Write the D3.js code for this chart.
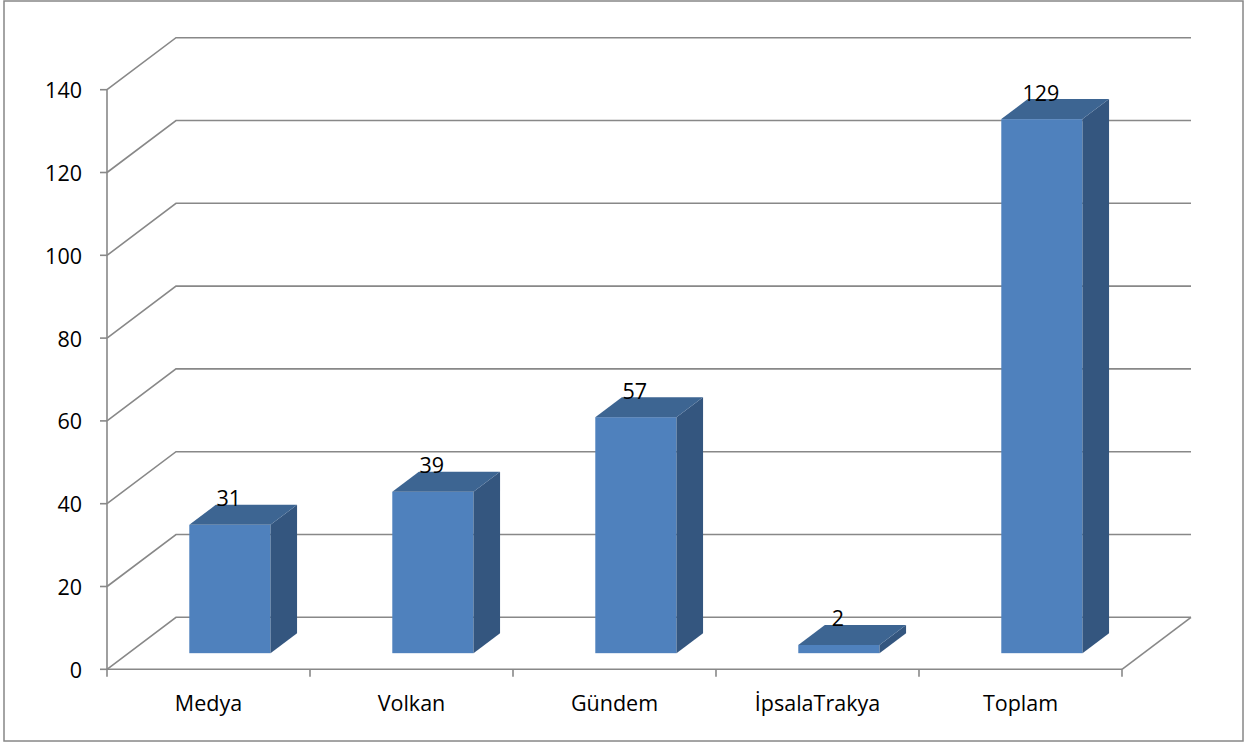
<!DOCTYPE html>
<html><head><meta charset="utf-8">
<script src="https://cdn.jsdelivr.net/npm/d3@7"></script>
<style>
html,body{margin:0;padding:0;background:#fff;}
svg{display:block;}
text{font-family:"Open Sans", Lato, sans-serif;fill:#000;}
</style></head>
<body>
<svg id="chart" width="1249" height="744"></svg>
<script>
const categories = ["Medya", "Volkan", "Gündem", "İpsalaTrakya", "Toplam"];
const values = [31, 39, 57, 2, 129];
const yTicks = [0, 20, 40, 60, 80, 100, 120, 140];

const W = 1249, H = 744;
const svg = d3.select("#chart");

// plot geometry (front plane)
const x0 = 107, x1 = 1122, yBottom = 669.3, yTop = 89.7;
const depthDx = 69, depthDy = -52;           // offset from front plane to back wall
const barFront = 0.31, barDepth = 0.385;     // bar position within the depth

const x = d3.scaleBand().domain(categories).range([x0, x1]).paddingInner(0.6).paddingOuter(0.3);
const xStep = d3.scaleBand().domain(categories).range([x0, x1]).padding(0);
const y = d3.scaleLinear().domain([0, 140]).range([yBottom, yTop]);

const gridColor = "#888888";
const fontSize = 21.5;

// chart border
svg.append("rect").attr("x", 4).attr("y", 1).attr("width", 1239).attr("height", 740)
  .attr("fill", "none").attr("stroke", "#878787").attr("stroke-width", 1.5);

const grid = svg.append("g").attr("stroke", gridColor).attr("stroke-width", 1.6).attr("fill", "none");
// gridlines: side wall diagonal + back wall horizontal
yTicks.forEach(t => {
  const p = d3.path();
  p.moveTo(x0, y(t));
  p.lineTo(x0 + depthDx, y(t) + depthDy);
  p.lineTo(x1 + depthDx, y(t) + depthDy);
  grid.append("path").attr("d", p.toString());
});
// floor right edge
{
  const p = d3.path();
  p.moveTo(x1, y(0));
  p.lineTo(x1 + depthDx, y(0) + depthDy);
  grid.append("path").attr("d", p.toString());
}
// y axis line and category axis line
grid.append("line").attr("x1", x0).attr("x2", x0).attr("y1", y(140)).attr("y2", y(0) + 7.5);
grid.append("line").attr("x1", x0).attr("x2", x1).attr("y1", y(0)).attr("y2", y(0));
// y ticks
yTicks.forEach(t => {
  grid.append("line").attr("x1", x0 - 7).attr("x2", x0).attr("y1", y(t)).attr("y2", y(t));
});
// category ticks
categories.forEach(c => {
  grid.append("line").attr("x1", xStep(c) + xStep.step()).attr("x2", xStep(c) + xStep.step())
    .attr("y1", y(0)).attr("y2", y(0) + 7.5);
});

// y tick labels
svg.append("g").selectAll("text").data(yTicks).join("text")
  .attr("x", 82).attr("y", d => y(d) + 8.5)
  .attr("text-anchor", "end").attr("font-size", fontSize).text(d => d);

// bars
const fdx = barFront * depthDx, fdy = barFront * depthDy;
const bdx = barDepth * depthDx, bdy = barDepth * depthDy;
const bars = svg.append("g");
categories.forEach((c, i) => {
  const v = values[i];
  const lx = x(c) + fdx, rx = x(c) + x.bandwidth() + fdx;
  const by = y(0) + fdy, ty = y(v) + fdy;
  // front face
  bars.append("rect").attr("x", lx).attr("y", ty).attr("width", rx - lx).attr("height", by - ty)
    .attr("fill", "#4F81BD");
  // side face
  bars.append("path").attr("d", `M${rx},${ty}L${rx + bdx},${ty + bdy}L${rx + bdx},${by + bdy}L${rx},${by}Z`)
    .attr("fill", "#34567F");
  // top face
  bars.append("path").attr("d", `M${lx},${ty}L${lx + bdx},${ty + bdy}L${rx + bdx},${ty + bdy}L${rx},${ty}Z`)
    .attr("fill", "#3D6592");
  // value label
  bars.append("text").attr("x", (lx + rx) / 2 - 1).attr("y", ty + bdy + 1.5)
    .attr("text-anchor", "middle").attr("font-size", fontSize).text(v);
});

// category labels
svg.append("g").selectAll("text").data(categories).join("text")
  .attr("x", d => xStep(d) + xStep.step() / 2).attr("y", 711)
  .attr("text-anchor", "middle").attr("font-size", fontSize).text(d => d);
</script>
</body></html>
